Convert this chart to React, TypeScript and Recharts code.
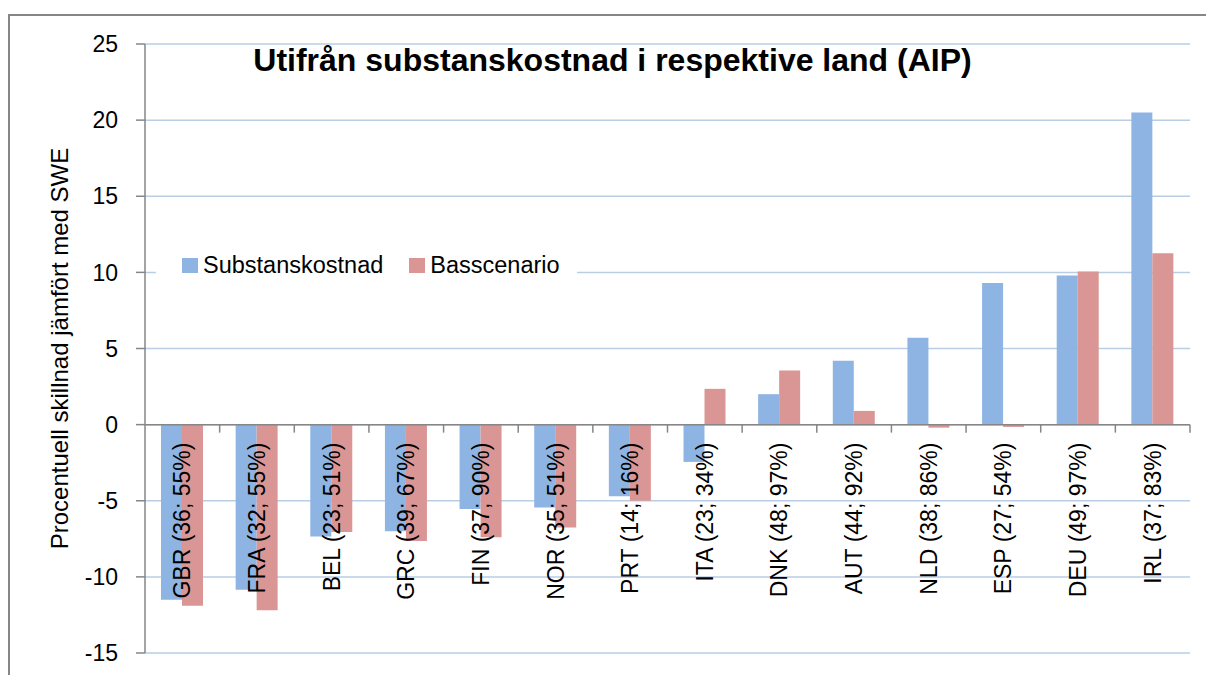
import React from "react";
import { BarChart, Bar, XAxis, YAxis, CartesianGrid, Legend, ReferenceLine } from "recharts";

const countries = [
  "GBR (36; 55%)", "FRA (32; 55%)", "BEL (23; 51%)", "GRC (39; 67%)", "FIN (37; 90%)",
  "NOR (35; 51%)", "PRT (14; 16%)", "ITA (23; 34%)", "DNK (48; 97%)", "AUT (44; 92%)",
  "NLD (38; 86%)", "ESP (27; 54%)", "DEU (49; 97%)", "IRL (37; 83%)",
];
const substanskostnad = [-11.5, -10.85, -7.35, -7.0, -5.55, -5.45, -4.7, -2.45, 2.0, 4.2, 5.7, 9.3, 9.8, 20.5];
const basscenario = [-11.9, -12.2, -7.05, -7.65, -7.4, -6.75, -5.0, 2.35, 3.55, 0.9, -0.2, -0.15, 10.05, 11.25];
const yTicks = [-15, -10, -5, 0, 5, 10, 15, 20, 25];
const seriesOrder = ["Substanskostnad", "Basscenario"];

const data = countries.map((name, i) => ({
  name,
  Substanskostnad: substanskostnad[i],
  Basscenario: basscenario[i],
}));

const W = 1206;
const H = 675;
const M = { top: 44, right: 16, bottom: 21, left: 0 };
const Y_AXIS_W = 145;
const PLOT_W = W - M.left - M.right - Y_AXIS_W;
const PLOT_H = H - M.top - M.bottom - 1;
const Y_MIN = -15;
const Y_MAX = 25;
const ZERO_Y = M.top + (PLOT_H * Y_MAX) / (Y_MAX - Y_MIN);
const BAND = PLOT_W / countries.length;

const FONT = "'Liberation Sans', Arial, sans-serif";
const BLUE = "#8EB4E3";
const RED = "#D99694";
const AXIS = "#868686";

const CountryTick = (props: any) => {
  const { x, payload } = props;
  const top = ZERO_Y + 18;
  return (
    <g>
      <line x1={x + BAND / 2} x2={x + BAND / 2} y1={ZERO_Y} y2={ZERO_Y + 8} stroke={AXIS} strokeWidth={1.5} />
      <text
        x={x}
        y={top}
        transform={`rotate(-90, ${x}, ${top})`}
        textAnchor="end"
        dominantBaseline="central"
        fontSize={23}
        fontFamily={FONT}
        fill="#000"
      >
        {payload.value}
      </text>
    </g>
  );
};

const LegendBox = (props: any) => {
  const items = [...(props.payload || [])].sort(
    (a: any, b: any) => seriesOrder.indexOf(a.value) - seriesOrder.indexOf(b.value)
  );
  return (
    <div style={{ display: "flex", alignItems: "center", height: "100%", paddingLeft: 26, fontFamily: FONT, fontSize: 23.5 }}>
      {items.map((it: any) => (
        <div key={it.value} style={{ display: "flex", alignItems: "center", marginRight: 26 }}>
          <span style={{ width: 16, height: 15, background: it.color, display: "inline-block", marginRight: 5 }} />
          <span style={{ color: "#000" }}>{it.value}</span>
        </div>
      ))}
    </div>
  );
};

export default function App() {
  return (
    <div style={{ position: "absolute", left: 0, top: 0, width: W, height: H, overflow: "hidden", background: "#fff" }}>
      <div
        style={{
          position: "absolute", left: 8, top: 14, width: W, height: H,
          borderLeft: `2px solid ${AXIS}`, borderTop: `2px solid ${AXIS}`,
        }}
      />
      <BarChart width={W} height={H} data={data} margin={M} barGap={0} barSize={21} style={{ position: "absolute", left: 0, top: 0 }}>
        <CartesianGrid vertical={false} stroke="#B9CDE5" strokeWidth={1.5} />
        <YAxis
          width={Y_AXIS_W}
          domain={[Y_MIN, Y_MAX]}
          ticks={yTicks}
          interval={0}
          stroke={AXIS}
          strokeWidth={1.5}
          tickSize={9}
          tickMargin={18}
          tick={{ fill: "#000", fontSize: 23, fontFamily: FONT }}
          label={{
            value: "Procentuell skillnad jämfört med SWE",
            angle: -90,
            position: "center",
            dx: -13,
            style: { fill: "#000", fontSize: 24, fontFamily: FONT, textAnchor: "middle" },
          }}
        />
        <Bar dataKey="Substanskostnad" fill={BLUE} isAnimationActive={false} />
        <Bar dataKey="Basscenario" fill={RED} isAnimationActive={false} />
        <ReferenceLine y={0} stroke={AXIS} strokeWidth={1.5} />
        <XAxis dataKey="name" height={1} axisLine={false} tickLine={false} interval={0} tick={<CountryTick />} />
        <Legend
          layout="horizontal"
          verticalAlign="middle"
          align="center"
          content={<LegendBox />}
          wrapperStyle={{ left: 156, top: 249, width: 421, height: 32, background: "#fff" }}
        />
      </BarChart>
      <div
        style={{
          position: "absolute", left: 0, width: 1225, top: 42, textAlign: "center",
          fontFamily: FONT, fontWeight: "bold", fontSize: 32, color: "#000",
        }}
      >
        Utifrån substanskostnad i respektive land (AIP)
      </div>
    </div>
  );
}
